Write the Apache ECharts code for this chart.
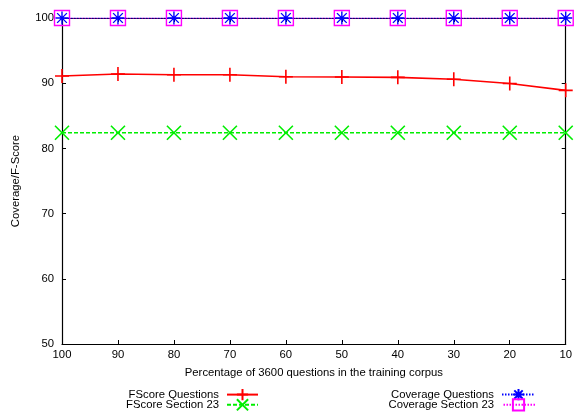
<!DOCTYPE html>
<html><head><meta charset="utf-8">
<script src="https://cdn.jsdelivr.net/npm/echarts@6/dist/echarts.min.js"></script>
<style>html,body{margin:0;padding:0;background:#fff}#c{width:575px;height:416px}</style>
</head><body><div id="c"></div>
<script>
var percentages = [100, 90, 80, 70, 60, 50, 40, 30, 20, 10];
var fscoreQuestions = [91.1, 91.4, 91.3, 91.3, 91.0, 90.95, 90.9, 90.6, 89.95, 88.9];
var fscoreSection23 = [82.4, 82.4, 82.4, 82.4, 82.4, 82.4, 82.4, 82.4, 82.4, 82.4];
var coverageQuestions = [100, 100, 100, 100, 100, 100, 100, 100, 100, 100];
var coverageSection23 = [100, 100, 100, 100, 100, 100, 100, 100, 100, 100];
var seriesNames = ['FScore Questions', 'FScore Section 23', 'Coverage Questions', 'Coverage Section 23'];
var xTitle = 'Percentage of 3600 questions in the training corpus';
var yTitle = 'Coverage/F-Score';

function pairs(vals){ return percentages.map(function(p,i){ return [p, vals[i]]; }); }
var FONT = 'Liberation Sans, Arial, Helvetica, sans-serif';
var plus = 'path://M0,-1L0,1M-1,0L1,0';
var cross = 'path://M-1,-1L1,1M-1,1L1,-1';
var star = 'path://M0,-1L0,1M-1,0L1,0M-0.75,-0.75L0.75,0.75M-0.75,0.75L0.75,-0.75';

var chart = echarts.init(document.getElementById('c'), null, {renderer:'canvas'});
var axisCommon = {
  axisLine:{show:true, onZero:false, lineStyle:{color:'#000', width:1.2}},
  axisTick:{show:true, inside:true, length:4, lineStyle:{color:'#000', width:1}},
  splitLine:{show:false}
};
var legendText = {fontFamily:FONT, fontSize:11.3, color:'#000', lineHeight:11, padding:[0,3,0,0]};
chart.setOption({
  animation:false,
  grid:{left:62, right:5, top:18, bottom:72, show:false},
  xAxis:[
    Object.assign({type:'value', position:'bottom', inverse:true, min:10, max:100, interval:10,
      name:xTitle, nameLocation:'middle', nameGap:23,
      nameTextStyle:{fontFamily:FONT, fontSize:11.3, color:'#000'},
      axisLabel:{fontFamily:FONT, fontSize:11.3, color:'#000', margin:5}}, axisCommon),
    Object.assign({type:'value', position:'top', inverse:true, min:10, max:100, interval:10,
      axisLabel:{show:false}}, axisCommon)
  ],
  yAxis:[
    Object.assign({type:'value', position:'left', min:50, max:100, interval:10,
      name:yTitle, nameLocation:'middle', nameGap:41, nameRotate:90,
      nameTextStyle:{fontFamily:FONT, fontSize:11.3, color:'#000'},
      axisLabel:{fontFamily:FONT, fontSize:11.3, color:'#000', margin:8}}, axisCommon),
    Object.assign({type:'value', position:'right', min:50, max:100, interval:10,
      axisLabel:{show:false}}, axisCommon)
  ],
  legend:[
    {data:[seriesNames[0], seriesNames[1]], orient:'vertical', align:'right', right:316, top:388, bottom:0,
      padding:0, itemWidth:31, itemHeight:14, itemGap:-3, textStyle:legendText},
    {data:[seriesNames[2], seriesNames[3]], orient:'vertical', align:'right', right:39, top:388, bottom:0,
      padding:0, itemWidth:33, itemHeight:14, itemGap:-3, textStyle:legendText}
  ],
  series:[
    {name:seriesNames[0], type:'line', data:pairs(fscoreQuestions), symbol:plus, symbolSize:14,
      lineStyle:{color:'#ff0000', width:1.6}, itemStyle:{color:'#ff0000', borderColor:'#ff0000', borderWidth:1.6}, z:3},
    {name:seriesNames[1], type:'line', data:pairs(fscoreSection23), symbol:cross, symbolSize:14,
      lineStyle:{color:'#00ee00', width:1.6, type:[4,2]}, itemStyle:{color:'#00ee00', borderColor:'#00ee00', borderWidth:1.6}, z:3},
    {name:seriesNames[2], type:'line', data:pairs(coverageQuestions), symbol:star, symbolSize:13,
      lineStyle:{color:'#0000ff', width:1.2, type:[1.5,1.5]}, itemStyle:{color:'#0000ff', borderColor:'#0000ff', borderWidth:1.4}, z:5},
    {name:seriesNames[3], type:'line', data:pairs(coverageSection23), symbol:'rect', symbolSize:15,
      lineStyle:{color:'#ff00ff', width:1.2, type:[1.5,1.5], dashOffset:1.5}, itemStyle:{color:'rgba(255,255,255,0)', borderColor:'#ff00ff', borderWidth:1.4}, z:4}
  ]
});
</script></body></html>
